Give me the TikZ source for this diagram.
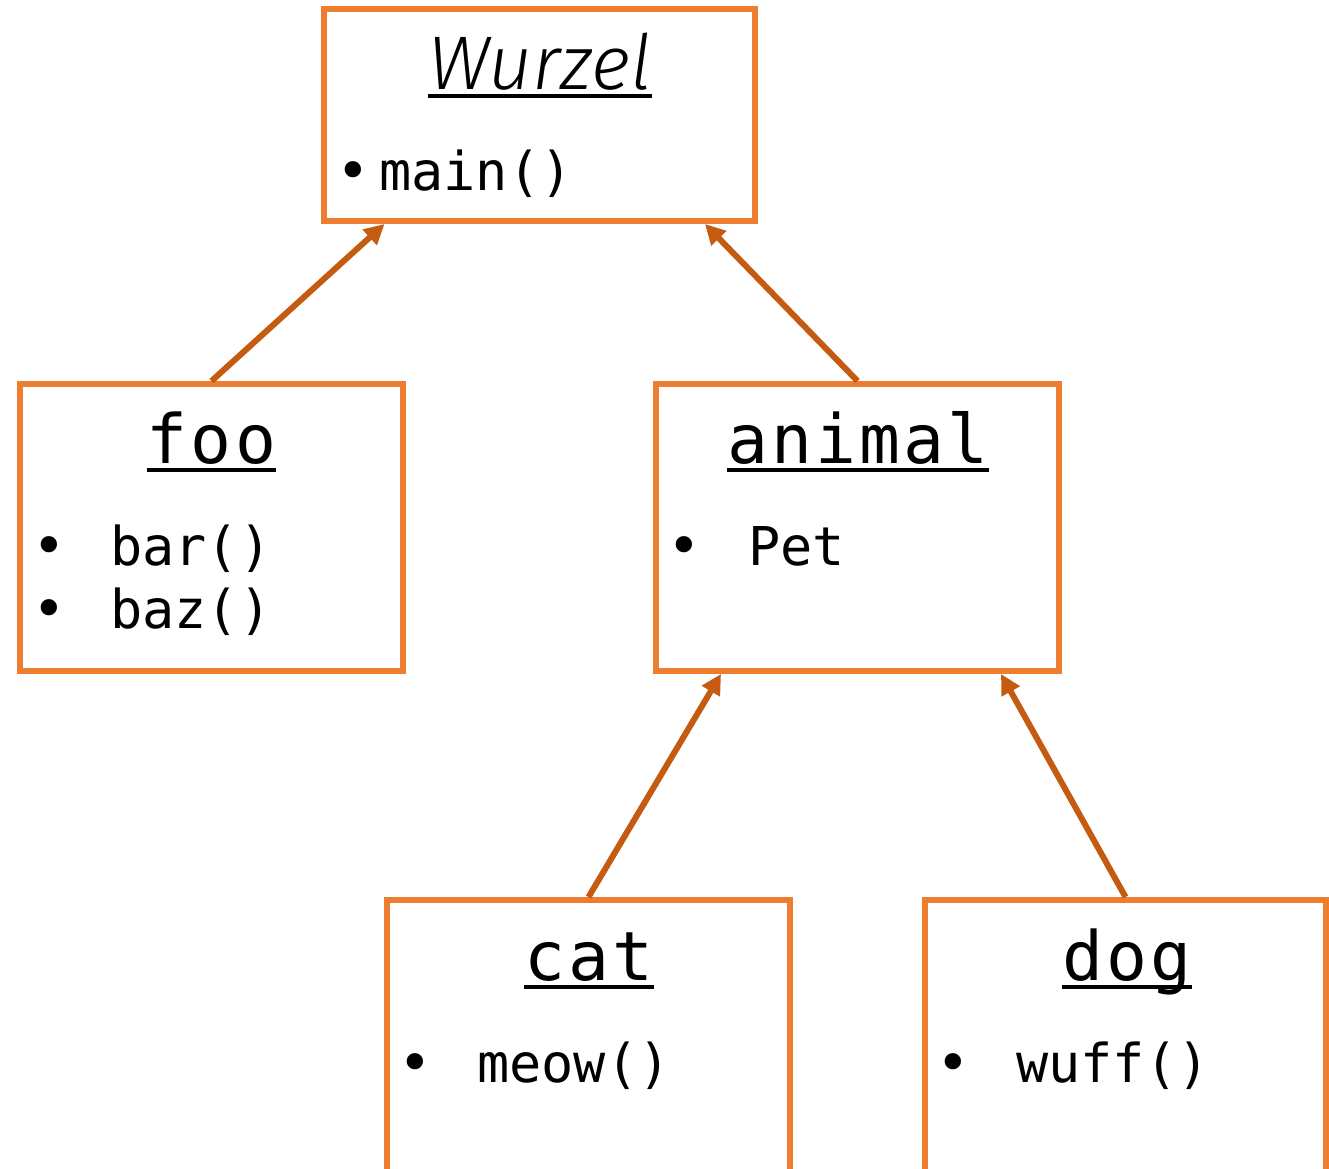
\documentclass[tikz,border=0pt]{standalone}
\usepackage{fontspec}
\setmainfont{Fira Sans}
\newfontfamily\monof{DejaVu Sans Mono}
\newfontfamily\titlef{DejaVu Sans Mono}[LetterSpace=4.6]
\newfontfamily\wurzelf{Fira Sans Light}
\usetikzlibrary{arrows.meta}
\definecolor{boxc}{HTML}{ED7D31}
\definecolor{arrc}{HTML}{C55A11}
\tikzset{
  cls/.style={draw=boxc, line width=6pt, fill=white, outer sep=3pt, inner sep=0pt},
  ttl/.style={inner sep=0pt, anchor=base, font=\titlef\fontsize{68}{74}\selectfont},
  item/.style={inner sep=0pt, anchor=base west, font=\monof\fontsize{53.5}{60}\selectfont},
  bul/.style={inner sep=0pt, anchor=base, font=\monof\fontsize{56}{60}\selectfont},
  uline/.style={line width=4pt, black},
  inh/.style={draw=arrc, line width=6pt, -{Triangle[length=20pt,width=20pt]}}
}
\begin{document}
\begin{tikzpicture}[x=1pt,y=-1pt]
\clip (0,0) rectangle (1329,1168);
\fill[white] (0,0) rectangle (1329,1168);
% boxes
\node[cls, minimum width=431.5pt, minimum height=212.5pt] (wurzel) at (539.25,114.75) {};
\node[cls, minimum width=383pt, minimum height=287pt] (foo) at (211.5,527.5) {};
\node[cls, minimum width=403pt, minimum height=287pt] (animal) at (857.5,527.5) {};
\node[cls, minimum width=403pt, minimum height=272pt] (cat) at (588.5,1036) {};
\node[cls, minimum width=401pt, minimum height=272pt] (dog) at (1125.5,1036) {};
% Wurzel
\node[inner sep=0pt, anchor=base, font=\wurzelf\itshape\fontsize{76}{86}\selectfont] (tw) at (540,89) {Wurzel};
\draw[uline] ([yshift=-7pt]tw.base west) -- ([yshift=-7pt]tw.base east);
\node[bul] (bw) at (353,190) {•};
\node[item] (mw) at (379,190) {main()};
% foo
\node[ttl] (tf) at (211.5,463) {foo};
\draw[uline] ([yshift=-7pt]tf.base west) -- ([yshift=-7pt]tf.base east);
\node[bul] (bf1) at (49,565) {•};
\node[item] (if1) at (110,565) {bar()};
\node[bul] (bf2) at (49,628) {•};
\node[item] (if2) at (110,628) {baz()};
% animal
\node[ttl] (ta) at (858,463) {animal};
\draw[uline] ([yshift=-7pt]ta.base west) -- ([yshift=-7pt]ta.base east);
\node[bul] (ba) at (684,565) {•};
\node[item] (ia) at (748,565) {Pet};
% cat
\node[ttl] (tc) at (589,980) {cat};
\draw[uline] ([yshift=-7pt]tc.base west) -- ([yshift=-7pt]tc.base east);
\node[bul] (bc) at (415,1082) {•};
\node[item] (ic) at (477,1082) {meow()};
% dog
\node[ttl] (td) at (1127,980) {dog};
\draw[uline] ([yshift=-7pt]td.base west) -- ([yshift=-7pt]td.base east);
\node[bul] (bd) at (953,1082) {•};
\node[item] (id) at (1016,1082) {wuff()};
% inheritance arrows
\draw[inh] (foo.north) -- ([xshift=64pt]wurzel.south west);
\draw[inh] (animal.north) -- ([xshift=-53pt]wurzel.south east);
\draw[inh] (cat.north) -- ([xshift=68pt]animal.south west);
\draw[inh] (dog.north) -- ([xshift=-61pt]animal.south east);
\end{tikzpicture}
\end{document}
